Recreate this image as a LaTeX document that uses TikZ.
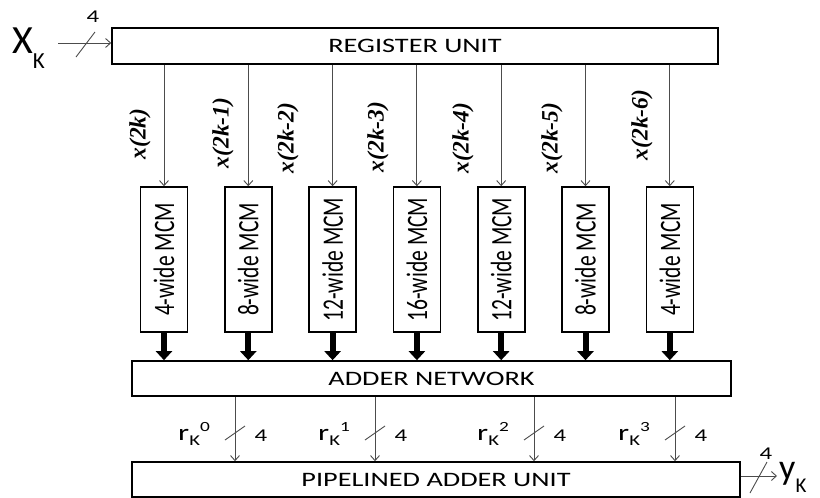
\documentclass[tikz,border=0pt]{standalone}
\usepackage{fontspec}
\setmainfont{Carlito}
\newfontfamily\timesfont{Liberation Serif}
\usetikzlibrary{arrows.meta,positioning}
% the lettering of this drawing runs wide
\newcommand{\hwide}[1]{\scalebox{1.38}[1]{#1}}
\newcommand{\vwide}[1]{\rotatebox{90}{\scalebox{1}[1.38]{#1}}}
\newcommand{\rsig}[1]{\hwide{\fontsize{23}{23}\selectfont r\raisebox{-5pt}{\fontsize{15}{15}\selectfont K}\raisebox{9pt}{\fontsize{14}{14}\selectfont #1}}}
\tikzset{
    %Define standard arrow tip
    >={Straight Barb[length=5pt,width=9pt]},
    %Define style for the long units
    unitbox/.style={
           rectangle,
           draw=black, line width=1.6pt,
           minimum height=35pt,
           inner sep=0pt,
           font=\fontsize{20.5}{20.5}\selectfont,
           text centered},
    mcm/.style={
           rectangle,
           draw=black, line width=1.6pt,
           minimum width=47pt,
           minimum height=145pt,
           inner sep=0pt,
           font=\fontsize{21.5}{21.5}\selectfont},
    samplelabel/.style={
           rotate=90,
           inner sep=0pt,
           font=\timesfont\bfseries\itshape\fontsize{23.5}{23.5}\selectfont},
    buswidth/.style={
           inner sep=0pt,
           font=\fontsize{18}{18}\selectfont},
    % Define arrow styles
    sig/.style={->, draw=black!70, line width=0.9pt},
    tick/.style={draw=black!70, line width=0.9pt},
    bus/.style={-{Triangle[width=16pt,length=9pt]}, line width=6pt}
}

\begin{document}
\begin{tikzpicture}[x=1pt,y=-1pt]
\useasboundingbox (0,0) rectangle (820,498);
 %units
\node[unitbox, minimum width=606pt, minimum height=36pt] (reg) at (415,46) {\hwide{REGISTER UNIT}};
\node[unitbox, minimum width=599pt] (add) at (431.5,378.5) {\hwide{ADDER NETWORK}};
\node[unitbox, minimum width=608pt] (pipe) at (436,479.5) {\hwide{PIPELINED ADDER UNIT}};
 %multiplier blocks
\foreach \w [count=\i] in {4,8,12,16,12,8,4}
  \node[mcm] (m\i) at ({164+84.3*(\i-1)},259.5) {\vwide{\w-wide MCM}};
\foreach \lx/\ly/\s [count=\i] in {140/134/x(2k), 223/133/x(2k-1), 288/138/x(2k-2),
    378/137/x(2k-3), 463/138/x(2k-4), 552/138/x(2k-5), 642/125/x(2k-6)}
  \node[samplelabel] (s\i) at (\lx,\ly) {\s};
\foreach \i in {1,...,7} {
  \draw[sig] (reg.south -| m\i.north) -- (m\i.north);
  \draw[bus] (m\i.south) -- (m\i.south |- add.north);
}
 %input
\node[anchor=base west, inner sep=0pt] (xk) at (12,53)
  {\fontsize{40}{40}\selectfont X\raisebox{-15pt}{\fontsize{23}{23}\selectfont K}};
\coordinate (xin) at (58,43);
\draw[sig] (xin) -- (xin -| reg.west);
\draw[tick] (76,57) -- (95,32);
\node[buswidth] at (93,17) {\hwide{4}};
 %partial results
\foreach \px/\q in {235/0,375/1,534/2,675/3} {
  \coordinate (o\q) at (\px,430);
  \draw[sig] (add.south -| o\q) -- (pipe.north -| o\q);
  \draw[tick] (\px-10,440) -- (\px+10,426);
  \node[anchor=base east, inner sep=0pt] (r\q) at (\px-25,440) {\rsig{\q}};
  \node[buswidth] at (\px+26,436) {\hwide{4}};
}
 %output
\node[anchor=base west, inner sep=0pt] (yk) at (779,479)
  {\fontsize{36}{36}\selectfont y\raisebox{-13pt}{\fontsize{21}{21}\selectfont K}};
\coordinate (yin) at (777,476);
\draw[sig] (pipe.east |- yin) -- (yin);
\draw[tick] (750,493) -- (767,462);
\node[buswidth] at (766,454) {\hwide{4}};
\end{tikzpicture}
\end{document}
